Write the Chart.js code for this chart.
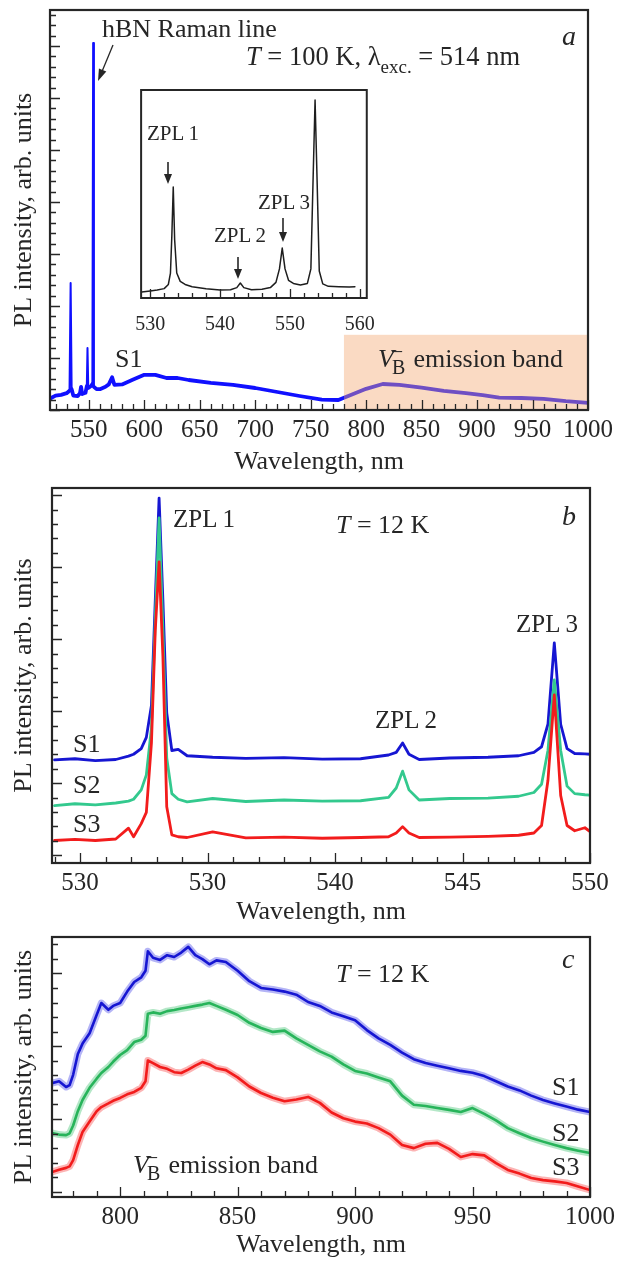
<!DOCTYPE html>
<html>
<head>
<meta charset="utf-8">
<script src="https://cdn.jsdelivr.net/npm/chart.js@4.4.1/dist/chart.umd.min.js"></script>
<style>
  body { margin: 0; background: #fff; }
  #page { position: relative; width: 624px; height: 1261px; overflow: hidden; }
  canvas { position: absolute; }
</style>
</head>
<body>
<div id="page">
  <canvas id="chartA" width="624" height="478" style="left:0;top:0"></canvas>
  <canvas id="chartInset" width="270" height="260" style="left:120px;top:80px"></canvas>
  <canvas id="chartB" width="624" height="450" style="left:0;top:478px"></canvas>
  <canvas id="chartC" width="624" height="333" style="left:0;top:928px"></canvas>
</div>
<script>
const SERIF = '"Liberation Serif", "Times New Roman", "DejaVu Serif", serif';
const INK = '#262626';

// panel a: T = 100 K overview spectrum (arb. units, 0-100)
const aWave = [516, 520, 525, 530, 532.6, 533.6, 534.5, 536, 540, 542, 543, 544, 547, 548.2, 548.8, 549.5,
  552, 553.2, 553.9, 554.6, 557, 560, 565, 568, 571, 573, 580, 590, 600, 610, 620, 630, 640, 660, 680,
  700, 720, 740, 760, 775, 785, 800, 815, 830, 850, 870, 890, 905, 920, 940, 960, 980, 1000];
const aSignal = [3.0, 3.6, 3.8, 4.2, 4.8, 31.75, 5.2, 3.6, 3.5, 4.2, 5.8, 4.0, 4.3, 6.0, 15.5, 5.5,
  6.0, 6.5, 91.75, 5.8, 5.2, 5.2, 5.8, 6.4, 8.2, 6.3, 6.4, 7.6, 8.8, 8.8, 8.0, 8.0, 7.5, 6.8, 6.3,
  5.5, 4.5, 3.5, 2.6, 2.5, 3.6, 5.3, 6.5, 6.3, 5.6, 4.8, 4.2, 3.7, 3.1, 3.0, 2.8, 2.2, 1.8];
const aTicks = [550, 600, 650, 700, 750, 800, 850, 900, 950, 1000];
const aBand = [780, 1000];
const aBandTop = 18.8;

// inset of panel a
const insetWave = [528.8, 530, 531, 532, 532.6, 532.9, 533.1, 533.3, 533.5, 533.8, 534.3, 535, 536, 538,
  540, 541.5, 542.4, 542.9, 543.4, 544.5, 546, 547.2, 548, 548.5, 548.9, 549.3, 549.8, 550.5, 551.5,
  552.5, 553, 553.3, 553.6, 553.9, 554.2, 554.7, 555.5, 557, 558.5, 559.3];
const insetSignal = [2.9, 3.4, 3.8, 4.5, 6.5, 12, 30, 53.4, 28, 12, 8, 6.5, 5.4, 4.5,
  3.9, 4.0, 5.0, 7.2, 5.0, 4.0, 4.2, 5.0, 7.5, 14, 24, 14, 8.5, 7.0, 6.3,
  7.0, 14, 55, 95.2, 55, 13, 6.8, 5.6, 5.4, 5.3, 5.4];
const insetTicks = [530, 540, 550, 560];

// panel b: T = 12 K, ZPL region
const bWave = [529, 529.8, 530.6, 531.4, 531.9, 532.1, 532.4, 532.6, 532.8, 532.95, 533.1, 533.25, 533.4,
  533.6, 533.85, 534.2, 535.2, 536.5, 538, 539.5, 541, 542.1, 542.4, 542.65, 542.9, 543.3, 544.5, 546,
  547.2, 547.8, 548.1, 548.35, 548.6, 548.85, 549.1, 549.4, 549.8, 550];
const bS1 = [27.5, 27.8, 27.3, 27.6, 28.5, 29.0, 30.5, 33.5, 42, 70, 97.3, 70, 40,
  30, 30.3, 28.6, 28.2, 27.9, 28.1, 27.7, 27.8, 28.8, 29.5, 32, 29, 27.6, 28, 28.2,
  28.6, 29.5, 31, 37, 58.7, 37, 30.5, 29.2, 29.1, 29];
const bS2 = [15.3, 15.8, 15.5, 16.0, 16.5, 17.0, 19.5, 23.5, 36, 65, 92, 62, 28,
  18.5, 17.0, 16.3, 17.2, 16.4, 16.8, 16.5, 16.6, 17.5, 20, 24.5, 19.5, 16.8, 17.2, 17.3,
  17.8, 18.8, 21, 30, 48.8, 30, 20.5, 18.5, 18.2, 18.1];
const bS3 = [6.0, 6.3, 6.0, 6.4, 9.3, 7.0, 10.5, 13.5, 32, 62, 80.3, 55, 15,
  7.5, 7.0, 6.8, 8.3, 6.7, 6.9, 6.6, 6.8, 7.0, 8.0, 9.7, 8.0, 6.8, 6.9, 7.1,
  7.4, 8.0, 10, 22, 44.8, 18, 10, 8.6, 9.4, 8.4];
const bTicks = [530, 535, 540, 545, 550];
const bTickLabels = ['530', '530', '540', '545', '550'];

// panel c: T = 12 K, V_B- band
const cWave = [771, 774, 777, 778.5, 780, 782, 784, 787, 790, 792, 795, 797, 800, 803, 806, 809, 810.8, 811.8,
  814, 817, 820, 823, 826, 829, 832, 835, 838, 841, 845, 850, 855, 860, 865, 870, 875, 880, 885, 890, 895,
  900, 905, 910, 915, 920, 925, 930, 935, 940, 945, 950, 955, 960, 965, 970, 975, 980, 985, 990, 995, 1000];
const cS1 = [43.8, 44.5, 42.3, 43.0, 47, 55, 59, 63, 70, 74.6, 72, 73.5, 74.6, 79, 82.7, 84.5, 87, 94.5,
  92, 91.2, 93, 92.3, 94, 96.2, 93, 91.5, 89.5, 91, 90.4, 87, 83, 80.4, 79.8, 79, 77.8, 75, 73.5, 71, 69.5,
  68, 64.2, 61, 58.5, 55.5, 53, 51.5, 50.5, 49.5, 48.5, 47.8, 46.5, 44.5, 42.5, 41, 39, 37.3, 36, 34.8, 33.6, 32.7];
const cS2 = [24.6, 24.0, 23.8, 24.5, 27.5, 33, 37.3, 42, 45.5, 47.7, 50, 52, 54.6, 56.5, 59.6, 60.5, 62, 70.5,
  71, 70.5, 71.5, 71.9, 72.5, 73, 73.5, 74, 74.6, 73.5, 72, 70, 67, 65, 63.5, 64, 61, 58.5, 56, 54, 51,
  48.5, 47.5, 46, 44.5, 39, 35.5, 35, 34.2, 33.5, 32.7, 34.2, 32, 29.5, 26.5, 24.5, 22.7, 21.3, 20, 18.8, 17.8, 16.9];
const cS3 = [9.6, 10.5, 11.2, 11.8, 14.2, 20, 25, 29, 33, 34.6, 36, 37, 38.1, 39.5, 40.4, 42, 44.5, 52.5,
  51.5, 50, 49.3, 48, 47.7, 49, 50.5, 51.9, 51, 49.5, 48.8, 46, 42.5, 40, 38.2, 36.8, 37.5, 38.5, 36.2, 32.5, 30.3,
  29, 28.3, 26.5, 24, 20, 18.8, 20.5, 20.8, 18.5, 15.4, 16.5, 16, 13, 10.4, 9, 7.3, 6.5, 6, 5.4, 4, 2.7];
const cTicks = [800, 850, 900, 950, 1000];

const BLUE = '#1616d2', GREEN_B = '#33c98e', GREEN_C = '#27b45a', RED = '#f21c1c';

function pts(xs, ys) { return xs.map((x, i) => ({ x, y: ys[i] })); }

function font(size, style) { return (style ? style + ' ' : '') + size + 'px ' + SERIF; }

// draw a run of text pieces (italic, sub/superscripts) from a left baseline point
function drawRuns(ctx, x, y, runs, size) {
  let cx = x;
  runs.forEach(r => {
    ctx.font = font(r.size || size, r.it ? 'italic' : '');
    ctx.fillText(r.t, cx, y + (r.dy || 0));
    cx += ctx.measureText(r.t).width + (r.kern || 0);
  });
}

function arrow(ctx, x1, y1, x2, y2, hl, hw) {
  const ang = Math.atan2(y2 - y1, x2 - x1);
  ctx.beginPath();
  ctx.moveTo(x1, y1);
  ctx.lineTo(x2 - Math.cos(ang) * hl * 0.8, y2 - Math.sin(ang) * hl * 0.8);
  ctx.stroke();
  ctx.beginPath();
  ctx.moveTo(x2, y2);
  ctx.lineTo(x2 - Math.cos(ang) * hl + Math.sin(ang) * hw / 2, y2 - Math.sin(ang) * hl - Math.cos(ang) * hw / 2);
  ctx.lineTo(x2 - Math.cos(ang) * hl - Math.sin(ang) * hw / 2, y2 - Math.sin(ang) * hl + Math.cos(ang) * hw / 2);
  ctx.closePath();
  ctx.fill();
}

// inward tick marks and the closed box
function frame(o) {
  return {
    id: 'frame',
    afterDatasetsDraw(chart) {
      const { ctx, chartArea: a, scales: { x, y } } = chart;
      ctx.save();
      ctx.strokeStyle = INK;
      ctx.lineWidth = 1.3;
      ctx.beginPath();
      for (let k = Math.ceil(x.min / o.xStep - 1e-9); k * o.xStep <= x.max + 1e-9; k++) {
        const v = k * o.xStep;
        const px = Math.round(x.getPixelForValue(v)) + 0.5;
        const major = Math.abs(v / o.xMajor - Math.round(v / o.xMajor)) < 1e-6;
        ctx.moveTo(px, a.bottom);
        ctx.lineTo(px, a.bottom - (major ? o.major : o.minor));
      }
      if (o.yStep) {
        for (let i = 0; o.yStart + i * o.yStep <= y.max + 1e-9; i++) {
          const py = Math.round(y.getPixelForValue(o.yStart + i * o.yStep)) + 0.5;
          ctx.moveTo(a.left, py);
          ctx.lineTo(a.left + (i % o.yEvery === 0 ? o.major : o.minor), py);
        }
      }
      ctx.stroke();
      ctx.lineWidth = o.box || 2.2;
      ctx.strokeRect(a.left, a.top, a.right - a.left, a.bottom - a.top);
      ctx.restore();
    }
  };
}

function labels(draw) {
  return {
    id: 'labels',
    afterDraw(chart) {
      const ctx = chart.ctx;
      ctx.save();
      ctx.fillStyle = INK;
      ctx.strokeStyle = INK;
      ctx.textBaseline = 'alphabetic';
      ctx.textAlign = 'left';
      draw(ctx, chart);
      ctx.restore();
    }
  };
}

function xAxis(min, max, ticks, text, o) {
  return {
    type: 'linear', min, max,
    afterBuildTicks: s => { s.ticks = ticks.map(v => ({ value: v })); },
    ticks: {
      autoSkip: false, maxRotation: 0, minRotation: 0, padding: o.pad, color: INK,
      font: { family: SERIF, size: o.size, lineHeight: 1.2 },
      callback: (v, i) => (o.tickText ? o.tickText[i] : String(v))
    },
    grid: { display: false, drawTicks: false },
    border: { display: false },
    title: text ? { display: true, text, color: INK, padding: { top: 0, bottom: 0 },
      font: { family: SERIF, size: 26, lineHeight: 1.2 } } : { display: false },
    afterFit: s => { s.height = o.height; }
  };
}

function yAxis(width, text) {
  return {
    type: 'linear', min: 0, max: 100, display: width > 0,
    ticks: { display: false },
    grid: { display: false, drawTicks: false },
    border: { display: false },
    title: { display: !!text, text, color: INK, padding: { top: 9, bottom: 0 },
      font: { family: SERIF, size: 26, lineHeight: 1.2 } },
    afterFit: s => { s.width = width; }
  };
}

function baseOptions(padding, scales) {
  return {
    responsive: false, animation: false, events: [],
    layout: { padding, autoPadding: false },
    plugins: { legend: { display: false }, tooltip: { enabled: false } },
    elements: { point: { radius: 0 }, line: { tension: 0, borderJoinStyle: 'round', borderCapStyle: 'round' } },
    scales
  };
}

// a noisy spectrum is drawn as a thin core over a wider translucent band of the same data
function noisy(xs, ys, color, halo, order) {
  return [
    { data: pts(xs, ys), borderColor: color, borderWidth: 2.6, order },
    { data: pts(xs, ys), borderColor: halo, borderWidth: 7, order: order + 1 }
  ];
}

const Y_TITLE = 'PL intensity, arb. units';
const X_TITLE = 'Wavelength, nm';

// ---------- panel a ----------
const shadeA = {
  id: 'shade',
  afterDatasetsDraw(chart) {
    const { ctx, scales: { x, y } } = chart;
    const x0 = x.getPixelForValue(aBand[0]), x1 = x.getPixelForValue(aBand[1]);
    const y0 = y.getPixelForValue(aBandTop), y1 = y.getPixelForValue(0);
    ctx.save();
    ctx.fillStyle = 'rgba(243,168,112,0.42)';
    ctx.fillRect(x0, y0, x1 - x0, y1 - y0);
    ctx.restore();
  }
};

new Chart(document.getElementById('chartA'), {
  type: 'line',
  data: { datasets: [{
    data: pts(aWave, aSignal), borderColor: '#1010ff', borderWidth: 3.8,
    segment: { borderWidth: c => Math.max(c.p0.parsed.y, c.p1.parsed.y) > 10 ? 2 : 3.8 }
  }] },
  options: baseOptions({ left: 0, top: 10, right: 36, bottom: 0 }, {
    x: xAxis(515, 1000, aTicks, X_TITLE, { pad: 5, size: 25, height: 68 }),
    y: yAxis(50, Y_TITLE)
  }),
  plugins: [shadeA, frame({ xStep: 10, xMajor: 50, yStart: 0, yStep: 2.6, yEvery: 5, minor: 6, major: 10 }),
    labels(ctx => {
      drawRuns(ctx, 102, 37, [{ t: 'hBN Raman line' }], 26);
      drawRuns(ctx, 246, 65, [{ t: 'T', it: true }, { t: ' = 100 K, λ' }, { t: 'exc.', size: 19, dy: 8 }, { t: ' = 514 nm' }], 26.5);
      drawRuns(ctx, 562, 45, [{ t: 'a', it: true }], 28);
      drawRuns(ctx, 115, 367, [{ t: 'S1' }], 26);
      drawRuns(ctx, 378, 367, [{ t: 'V', it: true, kern: -2 }, { t: 'B', size: 20, dy: 7, kern: -13.3 },
        { t: '–', size: 20, dy: -10, kern: 5 }, { t: ' emission band' }], 26);
      ctx.lineWidth = 1.3;
      arrow(ctx, 113, 45, 98, 81, 12, 8);
    })]
});

// ---------- inset ----------
new Chart(document.getElementById('chartInset'), {
  type: 'line',
  data: { datasets: [{ data: pts(insetWave, insetSignal), borderColor: '#1e1e1e', borderWidth: 1.5 }] },
  options: baseOptions({ left: 12, top: 10, right: 16, bottom: 0 }, {
    x: xAxis(528.7, 561, insetTicks, null, { pad: 15, size: 20, height: 42 }),
    y: yAxis(0, null)
  }),
  plugins: [
    { id: 'bg', beforeDatasetsDraw(chart) {
        const { ctx, chartArea: a } = chart;
        ctx.save(); ctx.fillStyle = '#fff'; ctx.fillRect(a.left, a.top, a.width, a.height); ctx.restore();
      } },
    frame({ xStep: 2, xMajor: 10, minor: 5, major: 9, box: 2 }),
    labels(ctx => {
      ctx.lineWidth = 1.6;
      drawRuns(ctx, 27, 60, [{ t: 'ZPL\u20091' }], 21);
      drawRuns(ctx, 94, 162, [{ t: 'ZPL\u20092' }], 21);
      drawRuns(ctx, 138, 129, [{ t: 'ZPL\u20093' }], 21);
      arrow(ctx, 48, 82, 48, 104, 10, 8);
      arrow(ctx, 118, 177, 118, 199, 10, 8);
      arrow(ctx, 163, 138, 163, 162, 10, 8);
    })]
});

// ---------- panel b ----------
new Chart(document.getElementById('chartB'), {
  type: 'line',
  data: { datasets: [
    { data: pts(bWave, bS1), borderColor: BLUE, borderWidth: 2.8, order: 3 },
    { data: pts(bWave, bS2), borderColor: GREEN_B, borderWidth: 2.8, order: 2 },
    { data: pts(bWave, bS3), borderColor: RED, borderWidth: 2.8, order: 1 }
  ] },
  options: baseOptions({ left: 0, top: 10, right: 34, bottom: 0 }, {
    x: xAxis(528.9, 550, bTicks, X_TITLE, { pad: 5, size: 25, height: 65, tickText: bTickLabels }),
    y: yAxis(52, Y_TITLE)
  }),
  plugins: [frame({ xStep: 1, xMajor: 5, yStart: 2.1, yStep: 3.84, yEvery: 5, minor: 6, major: 10 }),
    labels(ctx => {
      drawRuns(ctx, 173, 49, [{ t: 'ZPL\u20091' }], 25);
      drawRuns(ctx, 336, 55, [{ t: 'T', it: true }, { t: ' = 12 K' }], 26);
      drawRuns(ctx, 562, 47, [{ t: 'b', it: true }], 28);
      drawRuns(ctx, 516, 154, [{ t: 'ZPL\u20093' }], 25);
      drawRuns(ctx, 375, 250, [{ t: 'ZPL\u20092' }], 25);
      drawRuns(ctx, 73, 274, [{ t: 'S1' }], 26);
      drawRuns(ctx, 73, 315, [{ t: 'S2' }], 26);
      drawRuns(ctx, 73, 354, [{ t: 'S3' }], 26);
    })]
});

// ---------- panel c ----------
new Chart(document.getElementById('chartC'), {
  type: 'line',
  data: { datasets: [
    ...noisy(cWave, cS1, BLUE, 'rgba(40,40,230,0.35)', 5),
    ...noisy(cWave, cS2, GREEN_C, 'rgba(40,185,95,0.35)', 3),
    ...noisy(cWave, cS3, RED, 'rgba(245,40,40,0.35)', 1)
  ] },
  options: baseOptions({ left: 0, top: 9, right: 34, bottom: 0 }, {
    x: xAxis(771, 1000, cTicks, X_TITLE, { pad: 5, size: 25, height: 64 }),
    y: yAxis(52, Y_TITLE)
  }),
  plugins: [frame({ xStep: 10, xMajor: 50, yStart: 2, yStep: 5.6, yEvery: 5, minor: 6, major: 10 }),
    labels(ctx => {
      drawRuns(ctx, 336, 54, [{ t: 'T', it: true }, { t: ' = 12 K' }], 26);
      drawRuns(ctx, 562, 40, [{ t: 'c', it: true }], 28);
      drawRuns(ctx, 552, 167, [{ t: 'S1' }], 26);
      drawRuns(ctx, 552, 213, [{ t: 'S2' }], 26);
      drawRuns(ctx, 552, 247, [{ t: 'S3' }], 26);
      drawRuns(ctx, 133, 245, [{ t: 'V', it: true, kern: -2 }, { t: 'B', size: 20, dy: 7, kern: -13.3 },
        { t: '–', size: 20, dy: -10, kern: 5 }, { t: ' emission band' }], 26);
    })]
});
</script>
</body>
</html>
